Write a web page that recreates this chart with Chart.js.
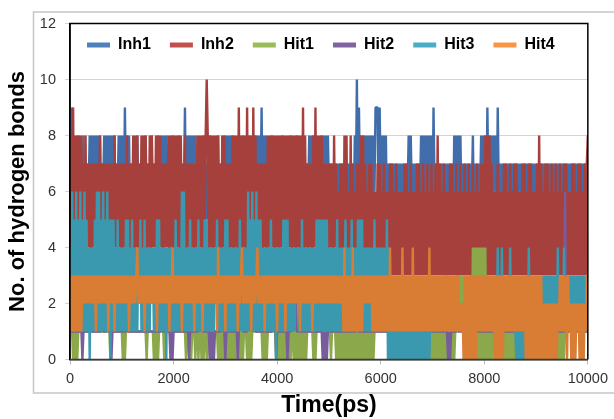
<!DOCTYPE html>
<html>
<head>
<meta charset="utf-8">
<script src="https://cdn.jsdelivr.net/npm/chart.js@4.4.1/dist/chart.umd.min.js"></script>
<style>
  html, body { margin: 0; padding: 0; background: #ffffff; }
  #wrap { width: 614px; height: 419px; }
</style>
</head>
<body>
<div id="wrap"><canvas id="c" width="614" height="419"></canvas></div>
<script>
// ---------------- data (read off the reference, sampled every 20 ps) ----------------
// one character per sample (hex digit, A = 10 hydrogen bonds)
const STEP_PS = 20;
const SERIES_NAMES = ['Inh1', 'Inh2', 'Hit1', 'Hit2', 'Hit3', 'Hit4'];
const X_TICKS = [0, 2000, 4000, 6000, 8000, 10000];
const Y_TICKS = [0, 2, 4, 6, 8, 10, 12];

const inh1 = [
  "9595757586575857576858586858685768586858" + "6858576858",
  "6859685857" + "6757586757" + "5758675768" + "5757685758" + "6858575768",
  "5757586757" + "6958685868" + "5857675758" + "6757586757" + "5768575758",
  "6858685857" + "6757576857" + "5768575758" + "6858695868" + "5757685757",
  "6757586757" + "5768575768" + "5757685757" + "6858685857" + "6758685868",
  "6757576757" + "6757675757" + "6757586A59" + "6858685858" + "6858699959",
  "6858685757" + "6757675767" + "5767576858" + "6757675768" + "5858685868",
  "5967576757" + "6757675767" + "5858685857" + "6757675768" + "5767576858",
  "6859685858" + "6859675767" + "5767576757" + "6757675767" + "5767576757",
  "6757675767" + "5767576757" + "6757675767" + "5767576757" + "6757675767",
  "7"
].join('');

const inh2 = [
  "8489483848" + "3847384747" + "3747374748" + "3747374737" + "4748473747",
  "3747384737" + "4838483748" + "3848374838" + "4748384847" + "3747483848",
  "3848483847" + "4837473747" + "3748384838" + "48A8384838" + "4838473848",
  "3747374838" + "4839483848" + "3948384938" + "4737473747" + "3848384838",
  "4838483848" + "3848384838" + "4838493847" + "3747384938" + "4838473747",
  "3747384736" + "3737383836" + "3837363737" + "3838373637" + "3736363737",
  "3637363637" + "3736373636" + "3637373637" + "3636373736" + "3736373637",
  "3637383736" + "3736363737" + "3637363736" + "3736373637" + "3637363737",
  "3838383736" + "3637363637" + "3736373637" + "3736363737" + "3637373636",
  "3738373637" + "3736373637" + "3637363737" + "3636373736" + "3737363737",
  "8"
].join('');

const hit1 = [
  "1110101011" + "1111111111" + "1111111111" + "1111111110" + "1111111111",
  "1010111111" + "1111111111" + "1111011111" + "1010101111" + "1011111111",
  "1111111111" + "1101101011" + "1011011010" + "1101101111" + "1110101010",
  "1010101010" + "1010101011" + "1010101111" + "1111110101" + "0111111110",
  "1010101010" + "1010110101" + "0101010101" + "1111101011" + "1111111111",
  "1101111010" + "1010101010" + "1010101010" + "1010101010" + "1010111111",
  "1111111111" + "1111111111" + "1111111111" + "1111111111" + "1111111010",
  "1010101010" + "1010101010" + "1011113131" + "3111111104" + "0404040404",
  "0401010101" + "1111111111" + "0101010101" + "0111111111" + "1111111111",
  "1111111111" + "1111111111" + "1010101011" + "1111111111" + "1111111111",
  "1"
].join('');

const hit2 = [
  "1111111111" + "1101111111" + "1111111111" + "1211112111" + "0111111111",
  "1111121111" + "1111111111" + "1111111111" + "1111111112" + "1111111010",
  "1111111111" + "1111101111" + "1111131311" + "1111101010" + "1111111211",
  "0111111111" + "1101313111" + "1121213121" + "1111111111" + "1111112120",
  "1111111111" + "0111313131" + "1111111111" + "1111111111" + "1111010101",
  "3111111111" + "1111111111" + "1111111211" + "1111111111" + "1111111111",
  "1111111111" + "1111111111" + "1111111111" + "1111111111" + "1111111111",
  "1111111111" + "1111101011" + "1111311111" + "1111111111" + "1111111111",
  "1111111111" + "1111111111" + "1111111111" + "1111111111" + "1111111111",
  "1111111111" + "1111111111" + "1111111161" + "1111111111" + "1111111111",
  "1"
].join('');

const hit3 = [
  "4161516151" + "6151615140" + "4141516161" + "5161516150" + "5151415141",
  "4141515141" + "5141414251" + "4151414142" + "4141515141" + "4140414141",
  "4151414161" + "6141415141" + "4141514141" + "5151414141" + "4251414141",
  "5151414141" + "4141514141" + "4161516151" + "6151514141" + "4141514140",
  "4141415151" + "5141414142" + "4141514141" + "4141414151" + "5151515151",
  "4141414151" + "4141415141" + "4151414151" + "5151414141" + "4141514141",
  "4141415040" + "2010201010" + "1020101020" + "1010201010" + "2010101021",
  "1212121212" + "1213121212" + "1212121212" + "1212121312" + "1212121212",
  "1212121212" + "1214121412" + "1212141212" + "1010101010" + "1214121212",
  "1212121313" + "1313131313" + "1412121412" + "1213131313" + "1313131312",
  "2"
].join('');

const hit4 = [
  "3131313131" + "3132323232" + "3232313232" + "3232323132" + "3231323232",
  "3232323132" + "3232342323" + "2313232323" + "2323132323" + "2323231324",
  "2323232313" + "2323232323" + "1323232313" + "2323232323" + "2314232323",
  "1323232323" + "2313234232" + "3232313232" + "3423232313" + "2323232323",
  "1323232313" + "2323232323" + "2313232323" + "2323132323" + "2323232323",
  "2323232323" + "2323141313" + "1314131313" + "1313232323" + "2313131313",
  "1313131314" + "1313131313" + "1413131313" + "1413131313" + "1313131413",
  "1313131313" + "1313131313" + "1313131212" + "0303030303" + "0303131313",
  "1313131313" + "0303030303" + "1313131313" + "1313131313" + "0303030303",
  "0303030202" + "0202020202" + "0213131313" + "0312020202" + "1202020213",
  "3"
].join('');

// ---------------- styling ----------------
const FONT = "'Liberation Sans', Arial, Helvetica, sans-serif";
const LINE_COLORS = ['#416EAA', '#A6403D', '#8BA84A', '#785D9B', '#3A98AF', '#DA7D34'];
const SWATCH_COLORS = ['#4F81BD', '#C0504D', '#9BBB59', '#8064A2', '#4BACC6', '#F79646'];

function toPoints(str) {
  return Array.from(str, (ch, i) => ({ x: i * STEP_PS, y: parseInt(ch, 16) }));
}

const SERIES_VALUES = [inh1, inh2, hit1, hit2, hit3, hit4];

const framePlugin = {
  id: 'frames',
  beforeDraw(chart) {
    const c = chart.ctx;
    c.save();
    c.fillStyle = '#ffffff';
    c.fillRect(0, 0, chart.width, chart.height);
    c.strokeStyle = '#c6c6c6';
    c.lineWidth = 1.5;
    c.strokeRect(33.5, 12, 620, 381);
    c.restore();
  },
  afterLayout(chart) {
    const lg = chart.legend;
    if (lg) {
      lg.left = 68; lg.right = 600;
      lg.top = 18; lg.bottom = 70;
      lg.width = lg.right - lg.left;
      lg.height = lg.bottom - lg.top;
    }
  },
  afterDatasetsDraw(chart) {
    const a = chart.chartArea;
    const c = chart.ctx;
    c.save();
    c.lineWidth = 1.5;
    c.strokeStyle = '#000000';
    c.beginPath();
    c.moveTo(a.left, a.bottom);
    c.lineTo(a.left, a.top);
    c.lineTo(a.right, a.top);
    c.lineTo(a.right, a.bottom);
    c.stroke();
    c.strokeStyle = '#3a3a3a';
    c.beginPath();
    c.moveTo(a.left, a.bottom);
    c.lineTo(a.right, a.bottom);
    c.stroke();
    c.restore();
  }
};

new Chart(document.getElementById('c'), {
  type: 'line',
  data: {
    datasets: SERIES_NAMES.map((name, k) => ({
      label: name,
      data: toPoints(SERIES_VALUES[k]),
      borderColor: LINE_COLORS[k],
      backgroundColor: LINE_COLORS[k],
      borderWidth: 2.4,
      borderJoinStyle: 'bevel',
      pointRadius: 0,
      tension: 0,
      fill: false,
      order: SERIES_NAMES.length - k   // later series drawn on top, like the original
    }))
  },
  options: {
    responsive: false,
    animation: false,
    events: [],
    normalized: true,
    layout: { padding: { left: 0, right: 26, top: 23.5, bottom: 0 } },
    scales: {
      x: {
        type: 'linear', min: 0, max: 10000,
        afterBuildTicks: s => { s.ticks = X_TICKS.map(v => ({ value: v })); },
        afterFit: s => { s.height = 59.5; },
        ticks: {
          color: '#333333', font: { family: FONT, size: 14.5 }, padding: 6, maxRotation: 0,
          callback: v => String(v)
        },
        grid: { drawOnChartArea: false, drawTicks: true, tickLength: 5, color: '#bdbdbd' },
        border: { display: true, color: '#3a3a3a', width: 1.5 },
        title: {
          display: true, text: 'Time(ps)', color: '#000000',
          font: { family: FONT, size: 23, weight: 'bold' },
          padding: { top: 0, bottom: 0 }
        }
      },
      y: {
        min: 0, max: 12,
        afterBuildTicks: s => { s.ticks = Y_TICKS.map(v => ({ value: v })); },
        afterFit: s => { s.width = 70; },
        ticks: { color: '#333333', font: { family: FONT, size: 14.5 }, padding: 9, callback: v => String(v) },
        grid: { color: '#d4d4d4', lineWidth: 1, tickLength: 5, drawTicks: true },
        border: { display: true, color: '#000000', width: 1.5 },
        title: {
          display: true, text: 'No. of hydrogen bonds', color: '#000000',
          font: { family: FONT, size: 22, weight: 'bold' },
          padding: { top: 5, bottom: 0 }
        }
      }
    },
    plugins: {
      tooltip: { enabled: false },
      legend: {
        display: true, position: 'top', align: 'start', maxHeight: 0.01,
        labels: {
          boxWidth: 23, boxHeight: 5, padding: 19, color: '#000000',
          font: { family: FONT, size: 16, weight: 'bold' },
          generateLabels: chart => chart.data.datasets.map((ds, i) => ({
            text: ds.label, fillStyle: SWATCH_COLORS[i], strokeStyle: SWATCH_COLORS[i],
            lineWidth: 0, hidden: false, datasetIndex: i, fontColor: '#000000'
          }))
        }
      }
    }
  },
  plugins: [framePlugin]
});
</script>
</body>
</html>
